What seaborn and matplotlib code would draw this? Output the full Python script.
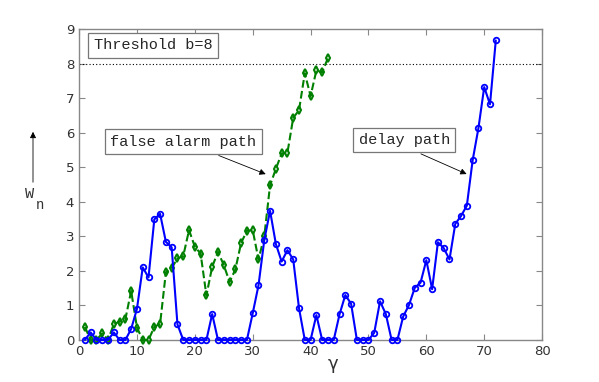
import numpy as np
import pandas as pd
import matplotlib
matplotlib.use("Agg")
import matplotlib.pyplot as plt
import seaborn as sns

# ==================== data ====================
delay_n = list(range(1, 73))
delay_w = [0, 0.22, 0, 0, 0, 0.22, 0, 0, 0.32, 0.9,
           2.1, 1.81, 3.49, 3.65, 2.84, 2.68, 0.45, 0, 0, 0,
           0, 0, 0.75, 0, 0, 0, 0, 0, 0, 0.77,
           1.58, 2.89, 3.74, 2.78, 2.27, 2.6, 2.33, 0.92, 0, 0,
           0.72, 0, 0, 0, 0.74, 1.3, 1.05, 0, 0, 0,
           0.21, 1.12, 0.75, 0, 0, 0.68, 1.01, 1.51, 1.66, 2.31,
           1.47, 2.83, 2.66, 2.33, 3.36, 3.59, 3.89, 5.2, 6.13, 7.32,
           6.82, 8.67]

alarm_n = list(range(1, 44))
alarm_w = [0.38, 0, 0, 0.19, 0, 0.46, 0.53, 0.6, 1.42, 0.36,
           0, 0, 0.38, 0.47, 1.96, 2.08, 2.36, 2.43, 3.18, 2.7,
           2.5, 1.29, 2.12, 2.55, 2.17, 1.68, 2.04, 2.81, 3.16, 3.18,
           2.33, 3.0, 4.48, 4.95, 5.4, 5.42, 6.43, 6.65, 7.72, 7.06,
           7.8, 7.75, 8.16]

threshold = 8
x_ticks = list(range(0, 81, 10))
y_ticks = list(range(0, 10))

delay_df = pd.DataFrame({"n": delay_n, "W": delay_w})
alarm_df = pd.DataFrame({"n": alarm_n, "W": alarm_w})

# ==================== plot ====================
sns.set_style("white")
plt.rcParams["font.family"] = ["DejaVu Sans"]
mono = "Liberation Mono"

fig = plt.figure(figsize=(5.99, 3.82), dpi=100)
ax = fig.add_axes([0.132, 0.110, 0.773, 0.814])

ax.axhline(threshold, color="black", linestyle=(0, (1, 2)), linewidth=0.8)

sns.lineplot(data=alarm_df, x="n", y="W", ax=ax, color="#008000",
             linestyle="--", linewidth=1.5, marker="d", markersize=4,
             markerfacecolor="none", markeredgecolor="#008000",
             markeredgewidth=1.5, zorder=3, clip_on=False)
sns.lineplot(data=delay_df, x="n", y="W", ax=ax, color="#0000ff",
             linewidth=1.5, marker="o", markersize=4,
             markerfacecolor="none", markeredgecolor="#0000ff",
             markeredgewidth=1.3, zorder=4, clip_on=False)

ax.set_xlim(0, 80)
ax.set_ylim(0, 9)
ax.set_xticks(x_ticks)
ax.set_yticks(y_ticks)
ax.set_xlabel("")
ax.set_ylabel("")
ax.tick_params(direction="in", length=4, width=0.8, colors="#888888",
               labelcolor="#333333", labelsize=9.5,
               top=True, right=True, bottom=True, left=True)
for s in ax.spines.values():
    s.set_color("#888888")
    s.set_linewidth(1.0)

box = dict(boxstyle="square,pad=0.35", facecolor="white",
           edgecolor="#777777", linewidth=0.9)
ax.text(12.75, 8.53, "Threshold b=8", family=mono, fontsize=11,
        ha="center", va="center", bbox=box, zorder=5)
ax.annotate("false alarm path", xy=(32.7, 4.77), xytext=(18.0, 5.74),
            family=mono, fontsize=11, ha="center", va="center", bbox=box,
            arrowprops=dict(arrowstyle="-|>", color="black", lw=0.6,
                            relpos=(0.625, 0), mutation_scale=9),
            zorder=5)
ax.annotate("delay path", xy=(67.4, 4.77), xytext=(56.2, 5.79),
            family=mono, fontsize=11, ha="center", va="center", bbox=box,
            arrowprops=dict(arrowstyle="-|>", color="black", lw=0.6,
                            relpos=(0.51, 0), mutation_scale=9),
            zorder=5)

# axis labels
fig.text(333 / 599, 1 - 364 / 382, "\u03b3", fontsize=13, ha="center",
         va="center", color="#333333")
fig.text(30 / 599, 1 - 194 / 382, "W", family=mono, fontsize=11,
         ha="center", va="center", color="#333333")
fig.text(40 / 599, 1 - 205 / 382, "n", family=mono, fontsize=10,
         ha="center", va="center", color="#333333")
fig.add_artist(matplotlib.patches.FancyArrowPatch(
    (33 / 599, 1 - 185 / 382), (33 / 599, 1 - 129 / 382),
    transform=fig.transFigure, arrowstyle="-|>", mutation_scale=9,
    color="black", lw=0.6))

fig.savefig("out.png", dpi=100)
